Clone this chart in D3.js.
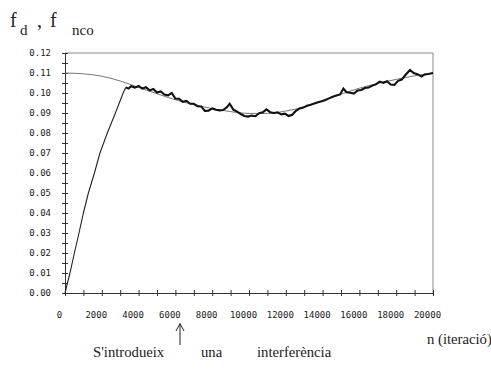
<!DOCTYPE html>
<html>
<head>
<meta charset="utf-8">
<script src="https://cdn.jsdelivr.net/npm/d3@7"></script>
<style>
  body { margin: 0; background: #fff; }
  svg { display: block; }
  .serif { font-family: "Liberation Serif", "DejaVu Serif", serif; }
</style>
</head>
<body>
<div class="chart"></div>
<script>
// fnco: smooth reference curve (read every 1000 iterations)
const ncoN = [0,1000,2000,3000,4000,5000,6000,7000,8000,9000,10000,11000,12000,13000,14000,15000,16000,17000,18000,19000,20000]
const ncoV = [.1100,.1096,.1084,.1060,.1028,.0996,.0966,.0942,.0922,.0907,.0898,.0898,.0910,.0930,.0962,.0994,.1024,.1048,.1068,.1086,.1100]

// fd: ramp up, then noisy tracking
const fdN = [0,270,510,760,1000,1270,1600,1900,2300,2740,3160,3300,
  3450,3600,3800,4000,4200,4400,4600,4800,5000,5200,5400,5600,5800,6000,6200,6400,6600,6800,
  7000,7200,7400,7600,7800,8000,8200,8400,8600,8800,8950,9150,9350,9550,9750,9950,10150,10350,
  10550,10750,10950,11150,11350,11550,11750,11950,12150,12350,12550,12750,12950,13150,13350,13550,
  13750,13950,14150,14350,14550,14750,14950,15130,15300,15500,15700,15900,16100,16300,16500,16700,
  16900,17100,17300,17500,17700,17900,18100,18300,18500,18750,18950,19150,19380,19550,19750,20000]
const fdV = [0,.010,.020,.030,.040,.050,.060,.070,.080,.090,.100,.1028,
  .1022,.1034,.1027,.1035,.1022,.1029,.1013,.1020,.1002,.1008,.0992,.0988,.1000,.0972,.0971,.0956,.0961,.0946,
  .0946,.0934,.0933,.0911,.0912,.0923,.0916,.0913,.0915,.0929,.0946,.0917,.0907,.0895,.0885,.0882,.0887,.0884,
  .0899,.0903,.0918,.0904,.0900,.0903,.0893,.0897,.0885,.0891,.0911,.0923,.0927,.0936,.0941,.0947,
  .0954,.0959,.0965,.0973,.0981,.0987,.0993,.1022,.1004,.1001,.0997,.1013,.1015,.1025,.1027,.1037,
  .1043,.1057,.1051,.1059,.1042,.1040,.1061,.1067,.1090,.1115,.1100,.1094,.1082,.1093,.1095,.1100]
const rampEnd = 3300

const xTicks = d3.range(0, 20001, 1000)
const yTicks = d3.range(0, 0.1201, 0.005)
const interference = 6250

const dim = { width: 491, height: 370, marginTop: 53, marginLeft: 65, marginRight: 58, marginBottom: 77 }
dim.boundedWidth = dim.width - dim.marginLeft - dim.marginRight
dim.boundedHeight = dim.height - dim.marginTop - dim.marginBottom

const svg = d3.select('.chart').append('svg')
  .attr('width', dim.width)
  .attr('height', dim.height)

const xScale = d3.scaleLinear().domain([0, 20000]).range([dim.marginLeft, dim.marginLeft + dim.boundedWidth])
const yScale = d3.scaleLinear().domain([0, 0.12]).range([dim.marginTop + dim.boundedHeight, dim.marginTop])

// frame top / right
svg.append('path')
  .attr('d', `M${xScale(0)},${yScale(0.12)}H${xScale(20000)}V${yScale(0)}`)
  .attr('fill', 'none').attr('stroke', '#8a8a8a').attr('stroke-width', 1)

const monoFont = '"DejaVu Sans Mono", monospace'

const xAxis = svg.append('g')
  .attr('transform', `translate(0,${yScale(0)})`)
  .call(d3.axisBottom(xScale).tickValues(xTicks).tickSize(3).tickPadding(15.5)
    .tickFormat(d => d % 2000 === 0 ? d : ''))
xAxis.selectAll('.tick line').attr('y1', -3)
xAxis.selectAll('text').attr('dx', -6)

const yAxis = svg.append('g')
  .attr('transform', `translate(${xScale(0)},0)`)
  .call(d3.axisLeft(yScale).tickValues(yTicks).tickSize(3).tickPadding(11)
    .tickFormat(d => Math.round(d * 1000) % 10 === 0 ? d3.format('.2f')(d) : ''))
yAxis.selectAll('.tick line').attr('x1', 3)

svg.selectAll('.domain').attr('stroke', '#333')
svg.selectAll('.tick line').attr('stroke', '#333')
svg.selectAll('.tick text')
  .attr('font-family', monoFont).attr('font-size', '9px').attr('fill', '#222')

const line = d3.line()
  .x(d => xScale(d[0]))
  .y(d => yScale(d[1]))

const nco = ncoN.map((n, i) => [n, ncoV[i]])
svg.append('path')
  .datum(nco)
  .attr('fill', 'none').attr('stroke', '#666').attr('stroke-width', 0.9)
  .attr('d', line.curve(d3.curveMonotoneX))

const fd = fdN.map((n, i) => [n, fdV[i]])
line.curve(d3.curveLinear)
svg.append('path')
  .datum(fd.filter(d => d[0] <= rampEnd))
  .attr('fill', 'none').attr('stroke', '#222').attr('stroke-width', 1.1)
  .attr('d', line)
svg.append('path')
  .datum(fd.filter(d => d[0] >= rampEnd))
  .attr('fill', 'none').attr('stroke', '#111').attr('stroke-width', 2.1)
  .attr('stroke-linejoin', 'miter')
  .attr('d', line)

// title f_d , f_nco
const title = svg.append('text').attr('class', 'serif').attr('fill', '#222')
title.append('tspan').attr('x', 10).attr('y', 27).attr('font-size', '20px').text('f')
title.append('tspan').attr('x', 20).attr('y', 35).attr('font-size', '15px').text('d')
title.append('tspan').attr('x', 37).attr('y', 27).attr('font-size', '20px').text(',')
title.append('tspan').attr('x', 50).attr('y', 27).attr('font-size', '20px').text('f')
title.append('tspan').attr('x', 72).attr('y', 35).attr('font-size', '15px').text('nco')

svg.append('text')
  .attr('class', 'serif')
  .attr('x', 427).attr('y', 344)
  .attr('font-size', '14.7px').attr('fill', '#222')
  .text('n (iteració)')

// arrow marking the interference
const ax = xScale(interference)
svg.append('path')
  .attr('d', `M${ax},345V324M${ax - 4},331L${ax},323.5L${ax + 4},331`)
  .attr('fill', 'none').attr('stroke', '#222').attr('stroke-width', 1)

const note = [['S\'introdueix', 93], ['una', 201], ['interferència', 257]]
svg.selectAll('.note')
  .data(note)
  .enter()
  .append('text')
  .attr('class', 'note serif')
  .attr('x', d => d[1]).attr('y', 357)
  .attr('font-size', '14.7px').attr('fill', '#222')
  .text(d => d[0])
</script>
</body>
</html>
